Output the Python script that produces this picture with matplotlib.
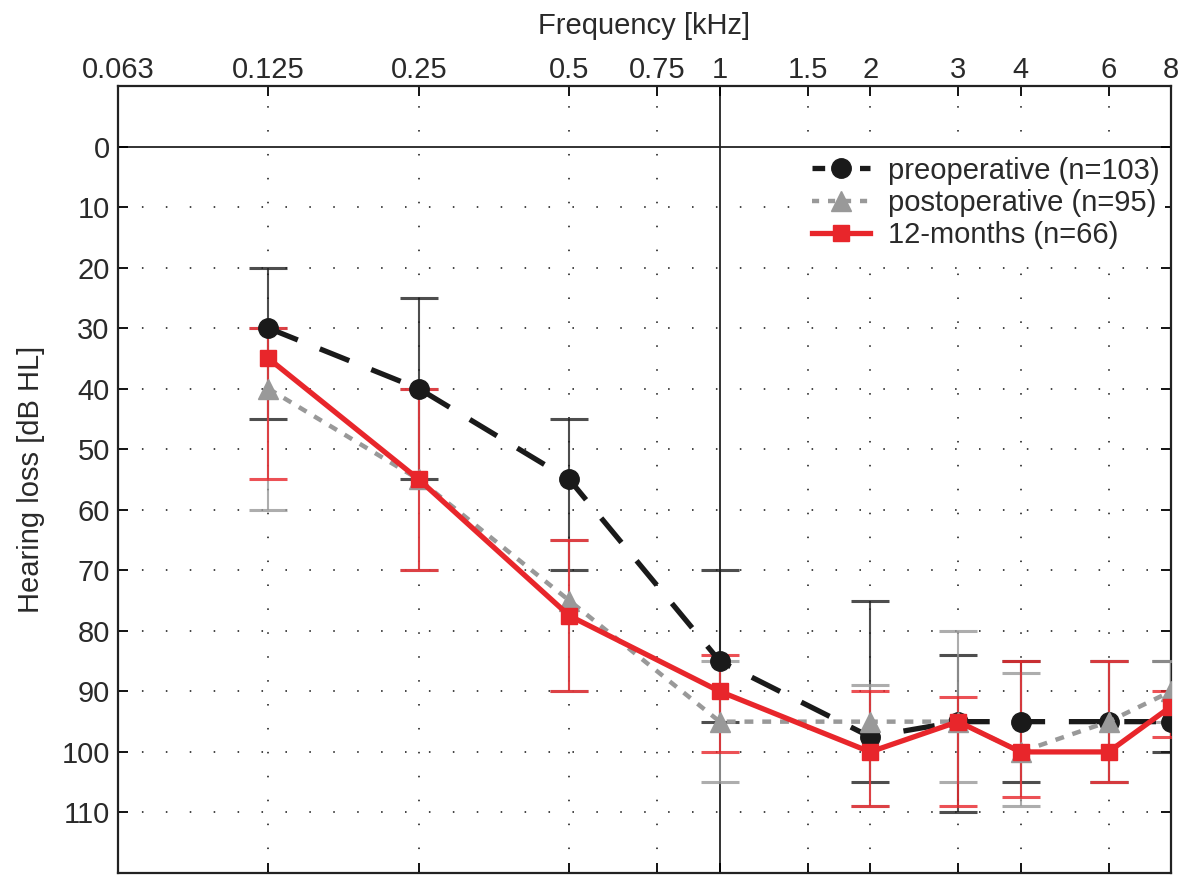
import matplotlib
matplotlib.use("Agg")
import matplotlib.pyplot as plt
from matplotlib.lines import Line2D
import numpy as np

plt.rcParams['font.family'] = ['Liberation Sans', 'DejaVu Sans']

# frequencies in kHz
frecuencias = [0.125, 0.25, 0.5, 1, 2, 3, 4, 6, 8]

# mean hearing loss [dB HL] per group
preop = [30, 40, 55, 85, 97.5, 95, 95, 95, 95]
postop = [40, 55, 75, 95, 95, 95, 100, 95, 90]
meses12 = [35, 55, 77.5, 90, 100, 95, 100, 100, 92.5]

# error bar limits (upper / lower end of each bar)
preop_lo = [20, 25, 45, 70, 75, 84, 85, 85, 85]
preop_hi = [45, 55, 70, 95, 105, 110, 105, 105, 100]
postop_lo = [30, 40, 65, 85, 89, 80, 87, 85, 85]
postop_hi = [60, 70, 90, 105, 109, 105, 109, 105, 95]
meses12_lo = [30, 40, 65, 84, 90, 91, 85, 85, 90]
meses12_hi = [55, 70, 90, 100, 109, 109, 107.5, 105, 97.5]

etiquetas = ["preoperative (n=103)", "postoperative (n=95)", "12-months (n=66)"]

xticks = [0.0625, 0.125, 0.25, 0.5, 0.75, 1, 1.5, 2, 3, 4, 6, 8]
xtick_labels = ["0.063", "0.125", "0.25", "0.5", "0.75", "1", "1.5", "2", "3", "4", "6", "8"]
yticks = list(range(0, 120, 10))

fig = plt.figure(figsize=(11.79, 8.75), dpi=100)
ax = fig.add_axes([0.1001, 0.0023, 0.8931, 0.8994])

ax.set_xscale("log", base=2)
ax.set_xlim(0.0625, 8)
ax.set_ylim(120, -10)

# dotted grid
punteado = (0, (0.8, 11.5))
for x in xticks:
    if x != 1:
        ax.axvline(x, color="#444444", lw=1.4, linestyle=punteado, zorder=0)
for y in yticks:
    if y != 0:
        ax.axhline(y, color="#444444", lw=1.4, linestyle=punteado, zorder=0)
ax.axhline(0, color="#222222", lw=1.3, zorder=1)
ax.axvline(1, color="#222222", lw=1.3, zorder=1)


def barras(media, lo, hi, color, z):
    media = np.array(media)
    err = [media - np.array(lo), np.array(hi) - media]
    ax.errorbar(frecuencias, media, yerr=err, fmt="none", ecolor=color,
                elinewidth=1.5, capsize=14, capthick=2.2, alpha=0.8, zorder=z)


barras(preop, preop_lo, preop_hi, "#222222", 2)
barras(postop, postop_lo, postop_hi, "#999999", 3)
barras(meses12, meses12_lo, meses12_hi, "#e8262b", 4)

ax.plot(frecuencias, preop, color="#1a1a1a", lw=3.8, linestyle=(0, (6, 4.5)),
        marker="o", ms=14, zorder=5)
ax.plot(frecuencias, postop, color="#999999", lw=3.2, linestyle=(0, (2, 2)),
        marker="^", ms=14, zorder=6)
ax.plot(frecuencias, meses12, color="#e8262b", lw=3.8, linestyle="-",
        marker="s", ms=11, zorder=7)

# legend proxies with shorter dashes so the marker sits between two dashes
proxies = [
    Line2D([], [], color="#1a1a1a", lw=3.8, linestyle=(0, (2.4, 2.1)), marker="o", ms=14),
    Line2D([], [], color="#999999", lw=3.2, linestyle=(0, (1.6, 2.0)), marker="^", ms=14),
    Line2D([], [], color="#e8262b", lw=3.8, linestyle="-", marker="s", ms=11),
]

ax.xaxis.set_major_locator(matplotlib.ticker.FixedLocator(xticks))
ax.xaxis.set_minor_locator(matplotlib.ticker.NullLocator())
ax.set_xticklabels(xtick_labels)
ax.set_yticks(yticks)
ax.set_yticklabels([str(v) for v in yticks])

ax.tick_params(axis="both", direction="in", length=7, width=1.3,
               top=True, bottom=True, left=True, right=True,
               labeltop=True, labelbottom=False, labelsize=21,
               labelcolor="#2a2a2a")
ax.tick_params(axis="x", pad=1.5)
ax.tick_params(axis="y", pad=6)

for s in ax.spines.values():
    s.set_linewidth(1.6)
    s.set_color("#222222")

ax.xaxis.set_label_position("top")
ax.set_xlabel("Frequency [kHz]", fontsize=21, color="#2a2a2a", labelpad=16)
ax.set_ylabel("Hearing loss [dB HL]", fontsize=21, color="#2a2a2a", labelpad=12)

leg = ax.legend(proxies, etiquetas, loc="upper right", bbox_to_anchor=(1.0, 0.925),
                fontsize=21, frameon=True, edgecolor="none", facecolor="white",
                framealpha=1, numpoints=1, handlelength=2.0, handletextpad=0.6,
                labelspacing=0.15, borderaxespad=0.2, borderpad=0.2)
for t in leg.get_texts():
    t.set_color("#2a2a2a")

fig.savefig("out.png", dpi=100)
